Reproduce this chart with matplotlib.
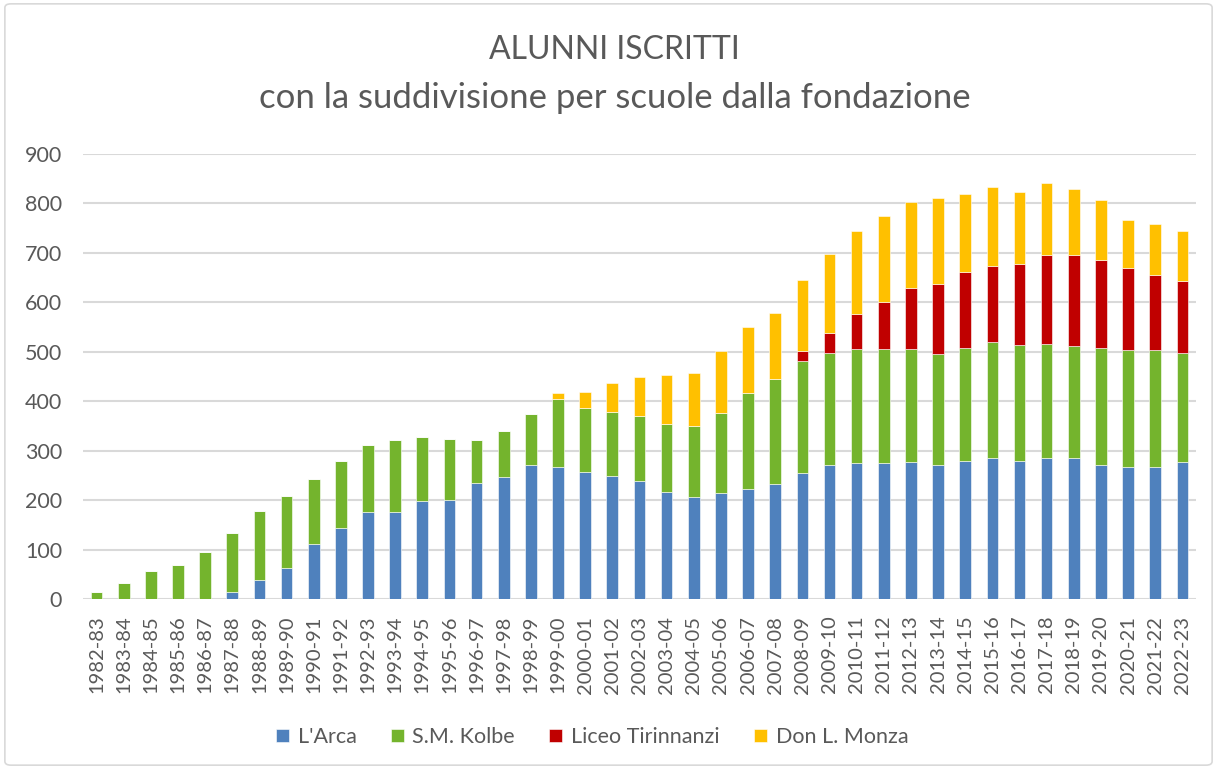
import matplotlib.pyplot as plt
import matplotlib.patches as mpatches
import numpy as np

plt.rcParams['font.family'] = ['Lato', 'DejaVu Sans']

# anni scolastici
anni = ['1982-83', '1983-84', '1984-85', '1985-86', '1986-87', '1987-88', '1988-89',
        '1989-90', '1990-91', '1991-92', '1992-93', '1993-94', '1994-95', '1995-96',
        '1996-97', '1997-98', '1998-99', '1999-00', '2000-01', '2001-02', '2002-03',
        '2003-04', '2004-05', '2005-06', '2006-07', '2007-08', '2008-09', '2009-10',
        '2010-11', '2011-12', '2012-13', '2013-14', '2014-15', '2015-16', '2016-17',
        '2017-18', '2018-19', '2019-20', '2020-21', '2021-22', '2022-23']

# alunni per scuola
arca = [0, 0, 0, 0, 0, 15, 38, 62, 112, 144, 175, 175, 199, 201,
        235, 246, 272, 267, 256, 248, 238, 217, 206, 214, 222, 233, 254, 270,
        275, 275, 277, 270, 280, 285, 280, 285, 285, 270, 267, 267, 277]
kolbe = [14, 32, 57, 69, 96, 118, 140, 147, 131, 136, 136, 147, 128, 123,
         86, 94, 102, 137, 131, 131, 133, 137, 144, 163, 194, 212, 228, 227,
         230, 230, 228, 225, 228, 234, 233, 231, 226, 238, 236, 236, 220]
liceo = [0] * 26 + [19, 41, 72, 95, 124, 142, 153, 155, 164, 179, 184, 177, 166, 153, 146]
monza = [0] * 17 + [12, 31, 58, 77, 99, 108, 124, 134, 134, 144, 159,
                    168, 174, 174, 174, 158, 160, 146, 147, 134, 123, 97, 102, 102]

serie = ["L'Arca", 'S.M. Kolbe', 'Liceo Tirinnanzi', 'Don L. Monza']
colori = ['#4F81BD', '#74B42D', '#C00000', '#FFC000']
testo = '#595959'

fig = plt.figure(figsize=(12.17, 7.69), dpi=100)
ax = fig.add_axes([0.0682, 0.2211, 0.9145, 0.5786])

x = np.arange(len(anni))
base = np.zeros(len(anni))
for nome, valori, col in zip(serie, [arca, kolbe, liceo, monza], colori):
    v = np.array(valori, dtype=float)
    ax.bar(x, v, width=0.43, bottom=base, color=col, label=nome,
           edgecolor='white', linewidth=0.4, zorder=3)
    base += v

ax.set_xlim(-0.5, len(anni) - 0.5)
ax.set_ylim(0, 900)
ax.set_yticks(range(0, 901, 100))
ax.set_xticks(x)
ax.set_xticklabels(anni, rotation=90)
ax.tick_params(axis='both', length=0, colors=testo)
ax.tick_params(axis='y', pad=15, labelsize=15.5)
ax.tick_params(axis='x', pad=12, labelsize=14.5)
ax.grid(axis='y', color='#D9D9D9', linewidth=1.5, zorder=0)
for s in ax.spines.values():
    s.set_visible(False)

fig.text(0.505, 1 - 50 / 769, 'ALUNNI ISCRITTI', ha='center', va='center',
         fontsize=23, color=testo)
fig.text(0.505, 1 - 98 / 769, 'con la suddivisione per scuole dalla fondazione',
         ha='center', va='center', fontsize=25, color=testo)

fig.legend(loc='center', bbox_to_anchor=(0.4865, 1 - 737 / 769), ncol=4, frameon=False,
           fontsize=15.5, labelcolor=testo, handlelength=0.6, handleheight=0.6,
           handletextpad=0.4, columnspacing=1.6)

bordo = mpatches.FancyBboxPatch((0.004, 0.005), 0.992, 0.99,
                                boxstyle='round,pad=0,rounding_size=0.005',
                                transform=fig.transFigure, fill=False,
                                edgecolor='#D9D9D9', linewidth=1.2)
fig.patches.append(bordo)

fig.savefig('out.png', dpi=100)
